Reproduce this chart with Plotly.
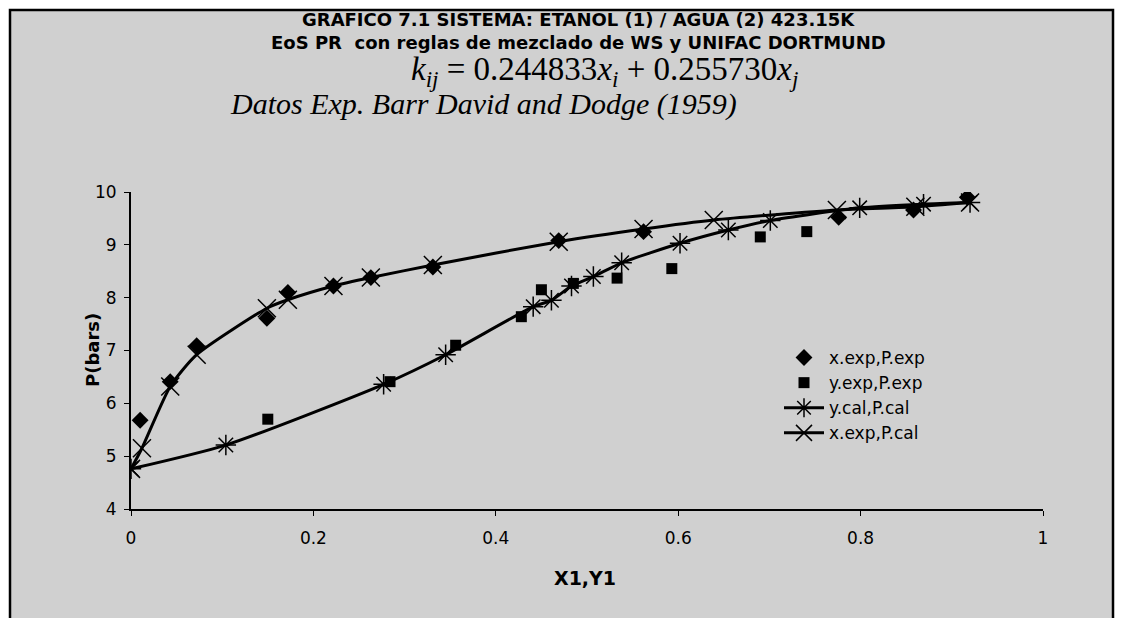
import plotly.graph_objects as go

# ---- data ----
x_exp_bub = [0.01, 0.043, 0.072, 0.149, 0.172, 0.222, 0.263, 0.331, 0.469, 0.562, 0.776, 0.858, 0.917]
p_exp_bub = [5.68, 6.41, 7.09, 7.61, 8.10, 8.22, 8.38, 8.58, 9.08, 9.25, 9.52, 9.66, 9.90]

y_exp_dew = [0.150, 0.284, 0.356, 0.428, 0.450, 0.485, 0.533, 0.593, 0.690, 0.741]
p_exp_dew = [5.70, 6.41, 7.10, 7.64, 8.15, 8.27, 8.37, 8.55, 9.15, 9.25]

y_cal = [0.0, 0.104, 0.277, 0.345, 0.441, 0.461, 0.483, 0.507, 0.538, 0.602, 0.655, 0.701, 0.799, 0.869, 0.920]
p_cal_dew = [4.76, 5.21, 6.36, 6.92, 7.83, 7.95, 8.22, 8.40, 8.66, 9.03, 9.28, 9.46, 9.70, 9.77, 9.80]

x_cal = [0.0, 0.012, 0.043, 0.072, 0.149, 0.172, 0.222, 0.263, 0.331, 0.469, 0.562, 0.639, 0.774, 0.860, 0.920]
p_cal_bub = [4.76, 5.15, 6.32, 6.92, 7.80, 7.96, 8.22, 8.38, 8.62, 9.06, 9.30, 9.47, 9.66, 9.72, 9.80]

x_ticks = [0, 0.2, 0.4, 0.6, 0.8, 1]
x_tick_labels = ["0", "0.2", "0.4", "0.6", "0.8", "1"]
y_ticks = [4, 5, 6, 7, 8, 9, 10]

# ---- layout geometry (pixels) ----
W, H = 1123, 618
L, R, T, B = 131, 1043, 192, 509
PW, PH = R - L, B - T


def px(xp):
    return (xp - L) / PW


def py(yp):
    return (B - yp) / PH


BG = "#d0d0d0"
SANS = "DejaVu Sans"
SERIF = "Liberation Serif"

fig = go.Figure()

fig.add_trace(go.Scatter(
    x=x_exp_bub, y=p_exp_bub, mode="markers", name="x.exp,P.exp",
    marker=dict(symbol="diamond", size=13, color="black")))
fig.add_trace(go.Scatter(
    x=y_exp_dew, y=p_exp_dew, mode="markers", name="y.exp,P.exp",
    marker=dict(symbol="square", size=11, color="black")))
fig.add_trace(go.Scatter(
    x=y_cal, y=p_cal_dew, mode="lines+markers", name="y.cal,P.cal",
    line=dict(color="black", width=3, shape="spline", smoothing=0.6),
    marker=dict(symbol="asterisk-open", size=17, color="black",
                line=dict(color="black", width=1.5))))
fig.add_trace(go.Scatter(
    x=x_cal, y=p_cal_bub, mode="lines+markers", name="x.exp,P.cal",
    line=dict(color="black", width=3, shape="spline", smoothing=0.6),
    marker=dict(symbol="x-thin-open", size=18, color="black",
                line=dict(color="black", width=1.5))))

shapes = [dict(type="rect", xref="paper", yref="paper", layer="below",
               x0=px(10), x1=px(1113), y0=py(630), y1=py(10),
               fillcolor=BG, line=dict(color="black", width=2.5))]


def ann(text, x, y, font, angle=0):
    return dict(text=text, x=px(x), y=py(y), xref="paper", yref="paper",
                xanchor="center", yanchor="middle", showarrow=False,
                textangle=angle, font=font)


annotations = [
    ann("<b>GRAFICO 7.1 SISTEMA: ETANOL (1) / AGUA (2) 423.15K</b>", 578, 19,
        dict(family=SANS, size=18, color="black")),
    ann("<b>EoS PR  con reglas de mezclado de WS y UNIFAC DORTMUND</b>", 578, 42,
        dict(family=SANS, size=18, color="black")),
    ann("<i>k</i><sub><i>ij</i></sub> = 0.244833<i>x</i><sub><i>i</i></sub> + 0.255730<i>x</i><sub><i>j</i></sub>",
        604, 72, dict(family=SERIF, size=33, color="black")),
    ann("<i>Datos Exp. Barr David and Dodge (1959)</i>", 483, 104,
        dict(family=SERIF, size=30, color="black")),
    ann("<b>P(bars)</b>", 92, 350, dict(family=SANS, size=18, color="black"), -90),
    ann("<b>X1,Y1</b>", 585, 578, dict(family=SANS, size=19, color="black")),
]

fig.update_layout(
    width=W, height=H,
    margin=dict(l=L, r=W - R, t=T, b=H - B, pad=0),
    paper_bgcolor="white",
    plot_bgcolor="rgba(0,0,0,0)",
    showlegend=True,
    legend=dict(x=px(779), y=py(340), xanchor="left", yanchor="top",
                bgcolor="rgba(0,0,0,0)", borderwidth=0,
                font=dict(family=SANS, size=17, color="black"),
                tracegroupgap=0, itemwidth=40),
    shapes=shapes,
    annotations=annotations,
    xaxis=dict(range=[0, 1], tickvals=x_ticks, ticktext=x_tick_labels,
               showgrid=False, zeroline=False, showline=True,
               linecolor="black", linewidth=2, ticks="outside", ticklen=5,
               tickcolor="black", ticklabelstandoff=8,
               tickfont=dict(family=SANS, size=17, color="black")),
    yaxis=dict(range=[4, 10], tickvals=y_ticks,
               showgrid=False, zeroline=False, showline=True,
               linecolor="black", linewidth=2, ticks="outside", ticklen=5,
               tickcolor="black", ticklabelstandoff=4,
               tickfont=dict(family=SANS, size=17, color="black")),
)

fig.write_html("out.html")
